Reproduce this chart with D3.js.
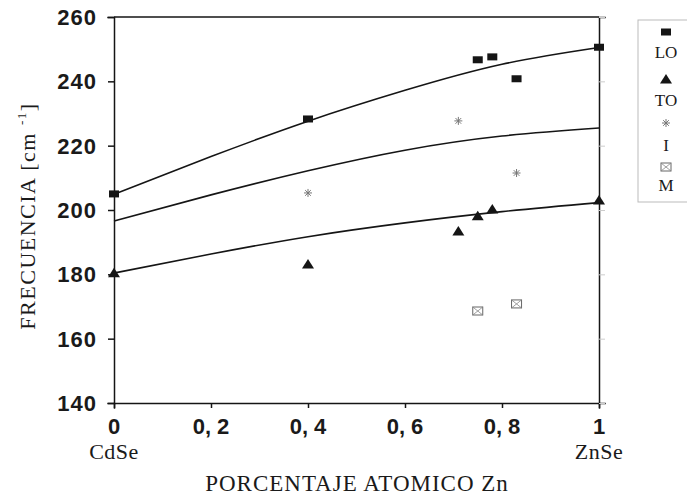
<!DOCTYPE html>
<html>
<head>
<meta charset="utf-8">
<script src="https://cdn.jsdelivr.net/npm/d3@7"></script>
<style>
  body { margin: 0; background: #fff; }
  .tick-lbl { font-family: "Liberation Sans", Arial, sans-serif; font-weight: bold; font-size: 22px; fill: #1a1a1a; }
  .serif { font-family: "Liberation Serif", "Times New Roman", serif; fill: #1a1a1a; }
</style>
</head>
<body>
<div id="chart"></div>
<script>
// measured points
const loX = [0, 0.4, 0.75, 0.78, 0.83, 1];
const loY = [205, 228.3, 246.7, 247.6, 240.8, 250.6];
const toX = [0, 0.4, 0.71, 0.75, 0.78, 1];
const toY = [180.5, 183.2, 193.5, 198.2, 200.3, 203.1];
const iX = [0.4, 0.71, 0.83];
const iY = [205.3, 227.7, 211.5];
const mX = [0.75, 0.83];
const mY = [168.6, 170.8];

// fitted curves
const fitX = [0, 0.2, 0.4, 0.6, 0.8, 1];
const fitLO = [204.9, 216.6, 227.6, 237.2, 245.3, 250.5];
const fitI = [196.6, 204.7, 212.2, 218.6, 223, 225.5];
const fitTO = [180.4, 186.3, 191.7, 196, 199.5, 202.3];

const yTicks = [140, 160, 180, 200, 220, 240, 260];
const xTicks = [0, 0.2, 0.4, 0.6, 0.8, 1];
const xTickText = ["0", "0, 2", "0, 4", "0, 6", "0, 8", "1"];
const legendNames = ["LO", "TO", "I", "M"];

var W = 687, H = 495;
var svg = d3.select("#chart").append("svg").attr("width", W).attr("height", H);

var x = d3.scaleLinear().domain([0, 1]).range([114, 599]);
var y = d3.scaleLinear().domain([140, 260]).range([403, 17]);
var ink = "#151515";

// frame
var g = svg.append("g");
g.append("g").attr("transform", "translate(0,403)")
  .call(d3.axisBottom(x).tickValues(xTicks).tickSize(5).tickFormat(""))
  .call(a => a.selectAll("line,path").attr("stroke", ink).attr("stroke-width", 1.5));
g.append("g").attr("transform", "translate(114,0)")
  .call(d3.axisLeft(y).tickValues(yTicks).tickSize(6).tickFormat(""))
  .call(a => a.selectAll("line,path").attr("stroke", ink).attr("stroke-width", 1.5));
g.append("g").attr("transform", "translate(599,0)")
  .call(d3.axisRight(y).tickValues(yTicks).tickSize(6).tickFormat(""))
  .call(a => a.select("path").attr("stroke", ink).attr("stroke-width", 1.5))
  .call(a => a.selectAll("line").attr("stroke", "#ccc"));
g.append("line").attr("x1", 114).attr("x2", 599).attr("y1", 17).attr("y2", 17)
  .attr("stroke", ink).attr("stroke-width", 1.5);
svg.selectAll(".domain").attr("stroke-linecap", "square");

// tick labels
svg.selectAll(".ylbl").data(yTicks).enter().append("text")
  .attr("class", "tick-lbl").attr("x", 97).attr("y", d => y(d) + 8)
  .attr("text-anchor", "end").style("letter-spacing", "1px").text(d => d);
svg.selectAll(".xlbl").data(xTicks).enter().append("text")
  .attr("class", "tick-lbl").attr("x", d => x(d)).attr("y", 434)
  .attr("text-anchor", "middle").text((d, i) => xTickText[i]);
svg.append("text").attr("class", "serif").attr("x", x(0)).attr("y", 459)
  .attr("text-anchor", "middle").style("font-size", "22px").style("letter-spacing", "0.5px").text("CdSe");
svg.append("text").attr("class", "serif").attr("x", x(1)).attr("y", 459)
  .attr("text-anchor", "middle").style("font-size", "22px").style("letter-spacing", "0.5px").text("ZnSe");

// axis titles
svg.append("text").attr("class", "serif").attr("x", 357).attr("y", 491)
  .attr("text-anchor", "middle").style("font-size", "23px").style("letter-spacing", "1px")
  .text("PORCENTAJE ATOMICO Zn");
var yt = svg.append("text").attr("class", "serif")
  .attr("transform", "translate(35,216) rotate(-90)")
  .attr("text-anchor", "middle").style("font-size", "22px").style("letter-spacing", "1.5px");
yt.append("tspan").text("FRECUENCIA [cm ");
yt.append("tspan").attr("dy", -9).style("font-size", "13px").text("-1");
yt.append("tspan").attr("dy", 9).text("]");

// fitted lines
var line = d3.line().x(d => x(d[0])).y(d => y(d[1])).curve(d3.curveNatural);
[fitLO, fitI, fitTO].forEach(function(s) {
  g.append("path").datum(fitX.map((v, i) => [v, s[i]]))
    .attr("d", line).attr("fill", "none").attr("stroke", ink).attr("stroke-width", 1.6);
});

// markers
function square(sel, cx, cy) {
  sel.append("rect").attr("x", cx - 5).attr("y", cy - 3.5).attr("width", 10).attr("height", 7).attr("fill", ink);
}
function triangle(sel, cx, cy) {
  sel.append("path").attr("d", `M${cx - 6},${cy + 4.5}L${cx + 6},${cy + 4.5}L${cx},${cy - 5}Z`).attr("fill", ink);
}
function star(sel, cx, cy) {
  var r = 4;
  var p = "";
  for (var k = 0; k < 4; k++) {
    var a = k * Math.PI / 4;
    p += `M${cx - r * Math.cos(a)},${cy - r * Math.sin(a)}L${cx + r * Math.cos(a)},${cy + r * Math.sin(a)}`;
  }
  sel.append("path").attr("d", p).attr("stroke", "#777").attr("stroke-width", 1);
}
function mbox(sel, cx, cy) {
  sel.append("rect").attr("x", cx - 5).attr("y", cy - 4).attr("width", 10).attr("height", 8)
    .attr("fill", "none").attr("stroke", "#666").attr("stroke-width", 1);
  sel.append("path").attr("d", `M${cx - 5},${cy - 4}L${cx + 5},${cy + 4}M${cx + 5},${cy - 4}L${cx - 5},${cy + 4}`)
    .attr("stroke", "#888").attr("stroke-width", 0.8);
}
var pts = svg.append("g");
loX.forEach((v, i) => square(pts, x(v), y(loY[i])));
toX.forEach((v, i) => triangle(pts, x(v), y(toY[i])));
iX.forEach((v, i) => star(pts, x(v), y(iY[i])));
mX.forEach((v, i) => mbox(pts, x(v), y(mY[i])));

// legend
var lg = svg.append("g");
lg.append("rect").attr("x", 638).attr("y", 20).attr("width", 60).attr("height", 182)
  .attr("fill", "none").attr("stroke", "#bbb").attr("stroke-width", 1);
var marks = [square, triangle, star, mbox];
var markY = [32, 79, 123, 167];
var textY = [58, 106, 151, 191];
legendNames.forEach(function(n, i) {
  marks[i](lg, 666, markY[i]);
  lg.append("text").attr("class", "serif").attr("x", 666).attr("y", textY[i])
    .attr("text-anchor", "middle").style("font-size", "17px").text(n);
});
</script>
</body>
</html>
